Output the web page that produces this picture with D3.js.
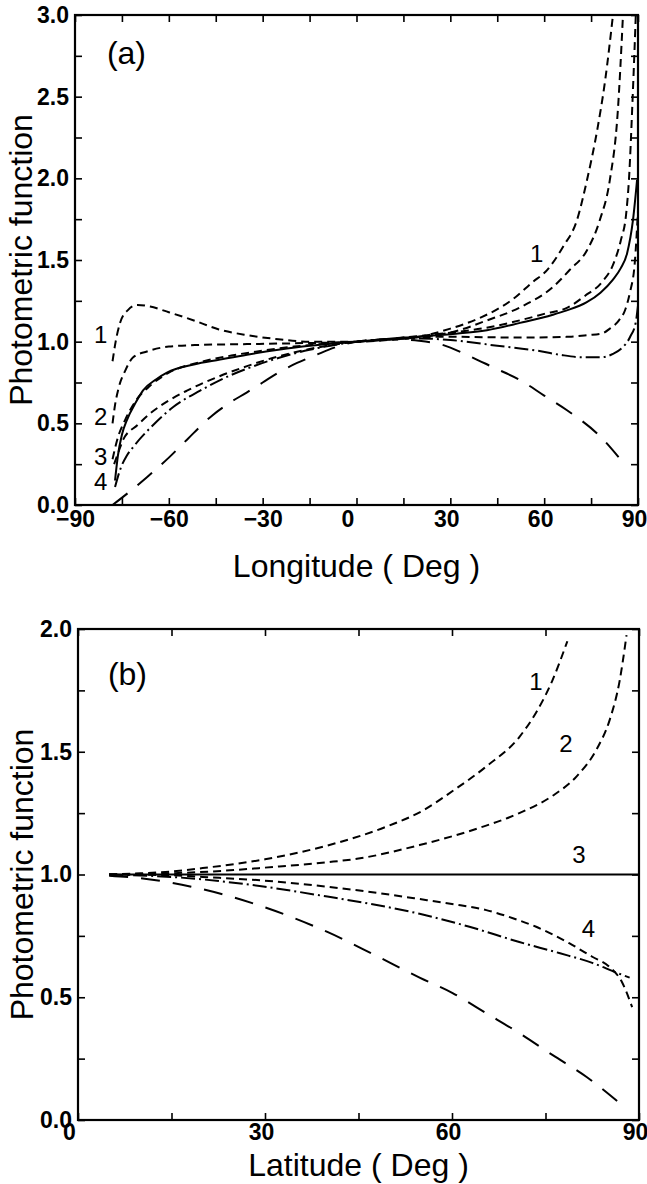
<!DOCTYPE html>
<meta charset="utf-8">
<style>
body { margin: 0; background: #fff; }
svg { display: block; background: #fff; }
.frame { fill: none; stroke: #000; stroke-width: 2.2; }
.axis path { display: none; }
.axis line { stroke: #000; stroke-width: 1.6; }
.axis text { font: bold 23px "Liberation Sans", sans-serif; fill: #000; }
.title { font: 32px "Liberation Sans", sans-serif; fill: #000; }
.curve { fill: none; stroke: #000; stroke-width: 2; }
.tag { font: 24px "Liberation Sans", sans-serif; fill: #000; }
.panel-name { font: 32px "Liberation Sans", sans-serif; fill: #000; }
</style>
<svg class="chart"></svg>
<script src="https://d3js.org/d3.v7.min.js"></script>
<script>
// ---- panel (a): photometric function against longitude ----
var lonTicks = [-90, -75, -60, -45, -30, -15, 0, 15, 30, 45, 60, 75, 90];
var lonLabels = [-90, -60, -30, 0, 30, 60, 90];
var valTicksA = [0, 0.25, 0.5, 0.75, 1, 1.25, 1.5, 1.75, 2, 2.25, 2.5, 2.75, 3];
var valLabelsA = [0, 0.5, 1, 1.5, 2, 2.5, 3];

// each curve: [longitude, value]
var lonCurve1 = [[-78, 0.88], [-77, 1.0], [-75.5, 1.12], [-73, 1.195], [-70, 1.225], [-66, 1.215],
  [-60, 1.18], [-52, 1.13], [-44, 1.075], [-35, 1.04], [-25, 1.015], [-15, 1.0], [0, 1.0],
  [10, 1.01], [20, 1.03], [30, 1.08], [40, 1.15], [50, 1.26], [56, 1.36], [61, 1.44],
  [66, 1.58], [70.5, 1.745], [73.7, 1.99], [77, 2.3], [79.5, 2.6], [82, 3.0]];
var lonCurve2 = [[-78, 0.5], [-77.3, 0.6], [-76, 0.72], [-74, 0.82], [-71.4, 0.905], [-67, 0.94],
  [-60, 0.97], [-50, 0.98], [-35, 0.985], [-20, 0.99], [0, 1.0], [15, 1.02], [25, 1.04],
  [30.8, 1.06], [41.7, 1.13], [52.3, 1.21], [62.8, 1.335], [68.2, 1.44], [73.7, 1.56],
  [77.8, 1.745], [81, 1.99], [83.5, 2.4], [85.2, 3.0]];
var lonCurve3 = [[-78, 0.28], [-76.5, 0.4], [-74, 0.52], [-70.5, 0.64], [-66, 0.73], [-60, 0.81],
  [-50, 0.875], [-40, 0.915], [-30, 0.945], [-20, 0.97], [-10, 0.987], [0, 1.0], [10, 1.015],
  [20, 1.035], [30, 1.055], [40, 1.08], [50, 1.12], [60, 1.17], [67.6, 1.21], [73, 1.28],
  [78.5, 1.365], [82, 1.47], [84.5, 1.62], [86.2, 1.78], [87.1, 1.99], [88.3, 2.5], [89.3, 3.0]];
var lonSolid = [[-77.2, 0.15], [-76.3, 0.3], [-75, 0.43], [-73.4, 0.52], [-70.5, 0.63], [-68.3, 0.7],
  [-64, 0.77], [-60.6, 0.81], [-52, 0.86], [-43.6, 0.89], [-35, 0.92], [-25, 0.95], [-15, 0.975],
  [0, 1.0], [15, 1.025], [30.8, 1.047], [41.7, 1.07], [52.3, 1.115], [62.8, 1.165], [67, 1.19],
  [73.5, 1.24], [78, 1.3], [82, 1.38], [84.5, 1.45], [86.5, 1.54], [88.4, 1.745], [89.7, 1.99]];
var lonCurve4 = [[-77.5, 0.25], [-76, 0.33], [-74.6, 0.4], [-70, 0.49], [-66, 0.56], [-60, 0.64],
  [-54.2, 0.7], [-43.6, 0.79], [-35, 0.85], [-25, 0.91], [-15, 0.955], [0, 1.0], [10, 1.015],
  [20, 1.028], [30, 1.03], [52, 1.025], [68, 1.03], [74, 1.04], [78.5, 1.05], [81, 1.08],
  [83.9, 1.13], [86, 1.2], [87.4, 1.3], [89, 1.49], [90, 1.8]];
var lonDashDot = [[-77.2, 0.11], [-75.5, 0.22], [-73.5, 0.3], [-71.4, 0.355], [-65, 0.49],
  [-58.6, 0.6], [-50, 0.7], [-43.6, 0.765], [-35, 0.835], [-25, 0.9], [-15, 0.95], [0, 1.0],
  [10, 1.015], [20, 1.02], [30, 1.01], [45, 0.975], [57.7, 0.945], [65, 0.92], [72, 0.905],
  [78.5, 0.905], [82, 0.925], [84.5, 0.955], [87.5, 1.03], [89.3, 1.12], [90, 1.22]];
var lonLongDash = [[-78, 0.0], [-72, 0.09], [-67, 0.17], [-60, 0.29], [-54.2, 0.4], [-46, 0.55],
  [-41, 0.62], [-35, 0.69], [-30, 0.75], [-25, 0.81], [-19, 0.87], [-14, 0.91], [-9, 0.95],
  [0, 1.0], [10, 1.015], [20, 1.005], [26.7, 0.985], [36.3, 0.91], [44, 0.84], [52.3, 0.765],
  [60, 0.67], [67.3, 0.58], [77.9, 0.42], [85.2, 0.26]];

// ---- panel (b): photometric function against latitude ----
var latTicks = [0, 15, 30, 45, 60, 75, 90];
var latLabels = [0, 30, 60, 90];
var valTicksB = [0, 0.25, 0.5, 0.75, 1, 1.25, 1.5, 1.75, 2];
var valLabelsB = [0, 0.5, 1, 1.5, 2];

var latCurve1 = [[5, 1.0], [10, 1.005], [15, 1.012], [20, 1.026], [30, 1.062], [40, 1.118],
  [50, 1.2], [55.3, 1.26], [60.1, 1.34], [65.5, 1.44], [70.8, 1.56], [73.5, 1.66],
  [76.1, 1.79], [78.5, 1.95]];
var latCurve2 = [[5, 1.0], [15, 1.005], [25, 1.018], [30, 1.028], [40, 1.05], [45, 1.065],
  [54.8, 1.12], [64.4, 1.19], [70.8, 1.25], [76.1, 1.32], [80, 1.4], [83.2, 1.51],
  [85.3, 1.63], [86.9, 1.79], [88, 1.975]];
var latSolid = [[5, 1.0], [90, 1.0]];
var latCurve4 = [[5, 1.0], [15, 0.997], [20, 0.99], [30, 0.975], [40, 0.95], [48, 0.925],
  [54.8, 0.9], [60, 0.88], [65.5, 0.855], [70, 0.82], [73.5, 0.787], [78.8, 0.72],
  [82.5, 0.665], [85.2, 0.625], [87.3, 0.56], [88.9, 0.46]];
var latDashDot = [[5, 1.0], [15, 0.99], [20, 0.98], [30, 0.95], [40, 0.91], [47, 0.88],
  [54.8, 0.84], [62.8, 0.787], [70.8, 0.725], [77.2, 0.68], [82.5, 0.64], [86.4, 0.6],
  [88.5, 0.58]];
var latLongDash = [[5, 0.995], [10, 0.985], [20, 0.94], [30, 0.866], [40, 0.766], [47, 0.68],
  [54.8, 0.58], [60.1, 0.517], [65.5, 0.435], [70.8, 0.354], [76.1, 0.265], [81.6, 0.175],
  [87.3, 0.06]];

// curve numbers written next to the lines, in data units
var tagsA = [["1", -83.9, 0.99], ["2", -83.9, 0.49], ["3", -83.9, 0.245], ["4", -83.9, 0.092], ["1", 55.5, 1.49]];
var tagsB = [["1", 72.4, 1.75], ["2", 77.2, 1.5], ["3", 79.3, 1.047], ["4", 80.8, 0.745]];

var dashes = { short: "8,5", long: "19,13", dashdot: "14,4,2,4", solid: null };

var panels = [
  {
    name: "(a)", nameAt: [-79.8, 2.7], xTitle: "Longitude ( Deg )",
    xDomain: [-90, 90], yDomain: [0, 3],
    box: { left: 75, right: 638, top: 15, bottom: 505 },
    xTicks: lonTicks, xLabels: lonLabels, yTicks: valTicksA, yLabels: valLabelsA,
    titleY: 577, yTitleX: 32, tags: tagsA, xPad: 6,
    series: [[lonCurve1, "short"], [lonCurve2, "short"], [lonCurve3, "short"], [lonSolid, "solid"],
             [lonCurve4, "short"], [lonDashDot, "dashdot"], [lonLongDash, "long"]]
  },
  {
    name: "(b)", nameAt: [4.8, 1.77], xTitle: "Latitude ( Deg )",
    xDomain: [0, 90], yDomain: [0, 2],
    box: { left: 78, right: 639, top: 629, bottom: 1120 },
    xTicks: latTicks, xLabels: latLabels, yTicks: valTicksB, yLabels: valLabelsB,
    titleY: 1176, yTitleX: 33, tags: tagsB, xPad: 4,
    series: [[latCurve1, "short"], [latCurve2, "short"], [latSolid, "solid"], [latCurve4, "short"],
             [latDashDot, "dashdot"], [latLongDash, "long"]]
  }
];

var svg = d3.select(".chart").attr("width", 647).attr("height", 1184);
var fmtY = d3.format(".1f");

panels.forEach(function(p) {
  var b = p.box;
  var x = d3.scaleLinear().domain(p.xDomain).range([b.left, b.right]);
  var y = d3.scaleLinear().domain(p.yDomain).range([b.bottom, b.top]);
  var g = svg.append("g");

  // ticks on all four sides, pointing inward
  g.append("g").attr("class", "axis")
    .attr("transform", "translate(0," + b.bottom + ")")
    .call(d3.axisBottom(x).tickValues(p.xTicks).tickSize(-7).tickSizeOuter(0).tickPadding(p.xPad)
      .tickFormat(function(d) { return p.xLabels.indexOf(d) >= 0 ? d3.format("d")(d) : ""; }))
    .selectAll("text")
    .attr("dx", function(d) { return d === 0 ? -9 : (d > 0 ? -4 : 0); });

  g.append("g").attr("class", "axis")
    .attr("transform", "translate(0," + b.top + ")")
    .call(d3.axisTop(x).tickValues(p.xTicks).tickSize(-7).tickSizeOuter(0).tickFormat(""));

  g.append("g").attr("class", "axis")
    .attr("transform", "translate(" + b.left + ",0)")
    .call(d3.axisLeft(y).tickValues(p.yTicks).tickSize(-7).tickSizeOuter(0).tickPadding(6)
      .tickFormat(function(d) { return p.yLabels.indexOf(d) >= 0 ? fmtY(d) : ""; }));

  g.append("g").attr("class", "axis")
    .attr("transform", "translate(" + b.right + ",0)")
    .call(d3.axisRight(y).tickValues(p.yTicks).tickSize(-7).tickSizeOuter(0).tickFormat(""));

  g.append("rect").attr("class", "frame")
    .attr("x", b.left).attr("y", b.top)
    .attr("width", b.right - b.left).attr("height", b.bottom - b.top);

  var line = d3.line()
    .x(function(d) { return x(d[0]); })
    .y(function(d) { return y(d[1]); })
    .curve(d3.curveMonotoneX);

  g.selectAll("path.curve")
    .data(p.series)
    .enter().append("path")
    .attr("class", "curve")
    .attr("d", function(s) { return line(s[0]); })
    .attr("stroke-dasharray", function(s) { return dashes[s[1]]; });

  g.selectAll("text.tag")
    .data(p.tags)
    .enter().append("text")
    .attr("class", "tag")
    .attr("x", function(d) { return x(d[1]); })
    .attr("y", function(d) { return y(d[2]); })
    .text(function(d) { return d[0]; });

  g.append("text").attr("class", "panel-name")
    .attr("x", x(p.nameAt[0])).attr("y", y(p.nameAt[1]))
    .text(p.name);

  g.append("text").attr("class", "title")
    .attr("x", (b.left + b.right) / 2).attr("y", p.titleY)
    .attr("text-anchor", "middle")
    .text(p.xTitle);

  g.append("text").attr("class", "title")
    .attr("transform", "translate(" + p.yTitleX + "," + (b.top + b.bottom) / 2 + ") rotate(-90)")
    .attr("text-anchor", "middle")
    .text("Photometric function");
});
</script>
